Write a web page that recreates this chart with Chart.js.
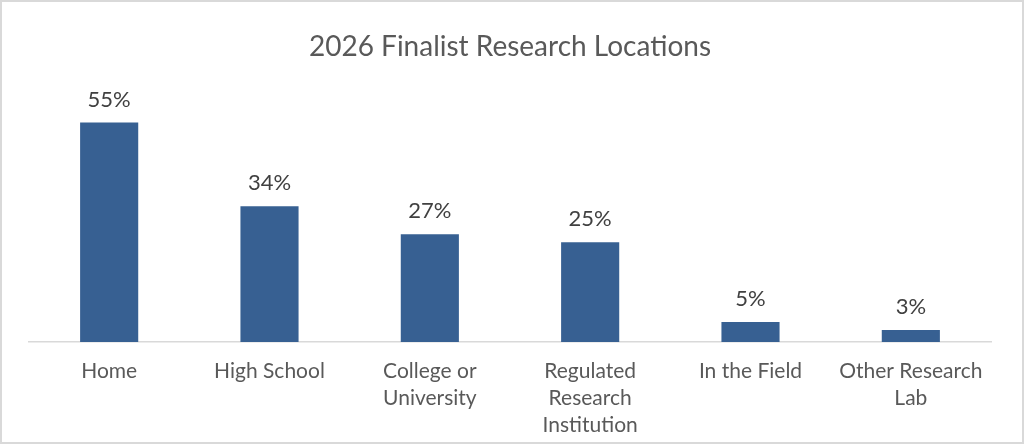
<!DOCTYPE html>
<html>
<head>
<meta charset="utf-8">
<script src="https://cdn.jsdelivr.net/npm/chart.js@4"></script>
<style>
  html, body { margin: 0; padding: 0; background: #fff; }
  #wrap { width: 1024px; height: 444px; position: relative; }
</style>
</head>
<body>
<div id="wrap"><canvas id="chart"></canvas></div>
<script>
// DATI
const categories = [
    'Home',
    'High School',
    ['College or', 'University'],
    ['Regulated', 'Research', 'Institution'],
    'In the Field',
    ['Other Research', 'Lab']
];
const shares = [55, 34, 27, 25, 5, 3];
const chartTitle = '2026 Finalist Research Locations';

const textColor = '#595959';
const fontFamily = 'Lato, "Open Sans", sans-serif';

// bordo esterno del grafico
const frame = {
    id: 'frame',
    beforeDraw(chart) {
        const c = chart.ctx;
        c.save();
        c.fillStyle = '#fff';
        c.fillRect(0, 0, chart.width, chart.height);
        c.strokeStyle = '#d9d9d9';
        c.lineWidth = 2;
        c.strokeRect(1, 1, chart.width - 2, chart.height - 2);
        c.restore();
    }
};

// etichette sopra le barre
const valueLabels = {
    id: 'valueLabels',
    afterDatasetsDraw(chart) {
        const c = chart.ctx;
        const meta = chart.getDatasetMeta(0);
        c.save();
        c.fillStyle = '#404040';
        c.font = '22px ' + fontFamily;
        c.textAlign = 'center';
        c.textBaseline = 'middle';
        meta.data.forEach((bar, i) => {
            c.fillText(shares[i] + '%', bar.x, bar.y - 23);
        });
        c.restore();
    }
};

const ctx = document.getElementById('chart').getContext('2d');
const chart = new Chart(ctx, {
    type: 'bar',
    data: {
        labels: categories,
        datasets: [{
            data: shares,
            backgroundColor: '#376092',
            categoryPercentage: 1,
            barPercentage: 0.3625
        }]
    },
    options: {
        responsive: true,
        maintainAspectRatio: false,
        animation: false,
        layout: { padding: { left: 29, right: 33, top: 0, bottom: 0 } },
        plugins: {
            legend: { display: false },
            tooltip: { enabled: false },
            title: {
                display: true,
                text: chartTitle,
                color: textColor,
                font: { family: fontFamily, size: 28, weight: 'normal', lineHeight: 1.2 },
                padding: { top: 30, bottom: 39 }
            }
        },
        scales: {
            x: {
                grid: { display: false, drawTicks: false },
                border: { display: true, color: '#d9d9d9', width: 1.5 },
                ticks: {
                    color: textColor,
                    font: { family: fontFamily, size: 21, lineHeight: 27 / 21 },
                    padding: 16,
                    maxRotation: 0,
                    autoSkip: false
                },
                afterFit(scale) { scale.height = 102; }
            },
            y: {
                display: false,
                beginAtZero: true,
                max: 60
            }
        }
    },
    plugins: [frame, valueLabels]
});
</script>
</body>
</html>
